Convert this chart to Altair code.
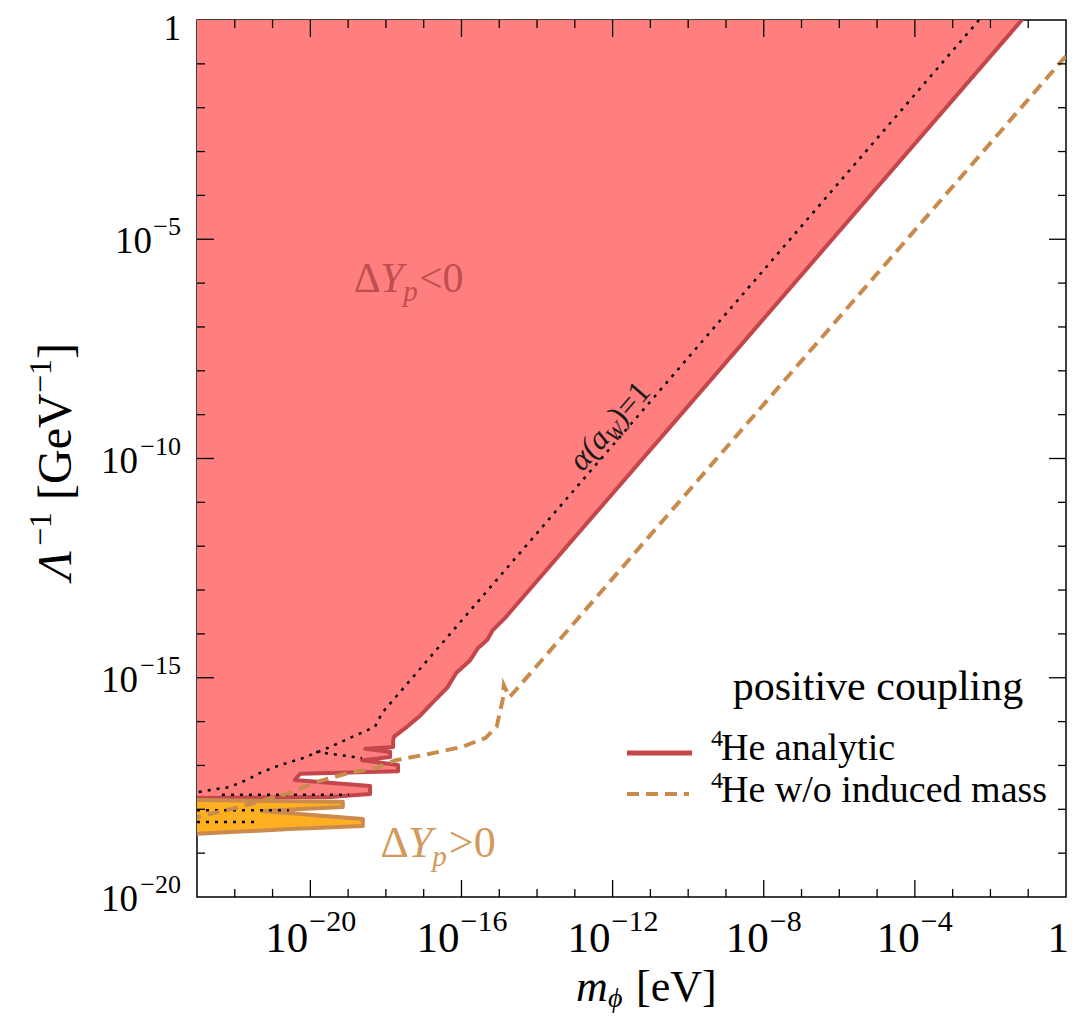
import altair as alt
import pandas as pd

W, H = 869, 877
FONT = "Liberation Serif"

xs = alt.Scale(type="log", domain=[1e-23, 1.0], nice=False)
ys = alt.Scale(type="log", domain=[1e-20, 1.0], nice=False)

# ---------------- data (log10 values) ----------------
# red (Delta Y_p < 0) region boundary, top -> bottom (log10 m_phi, log10 Lambda^-1)
red_lx = [-1.17, -14.85, -15.17, -15.32, -15.56, -15.77, -16.14, -16.38, -16.78, -17.10,
          -17.49, -17.79, -17.81, -17.81, -18.55, -17.89, -17.89, -18.63, -17.68, -17.68,
          -20.27, -20.41, -18.42, -18.42, -19.48, -23.0]
red_ly = [0.0, -13.64, -13.91, -14.14, -14.32, -14.60, -14.89, -15.23, -15.58, -15.87,
          -16.15, -16.35, -16.44, -16.58, -16.62, -16.69, -16.81, -16.88, -16.99, -17.13,
          -17.19, -17.33, -17.47, -17.65, -17.72, -17.74]

# orange (Delta Y_p > 0) region boundary, top -> bottom
org_lx = [-23.0, -21.60, -19.14, -19.14, -21.28, -18.61, -18.61, -20.54, -23.0]
org_ly = [-17.77, -17.79, -17.83, -17.95, -18.04, -18.22, -18.38, -18.45, -18.56]

# "4He w/o induced mass" dashed curve
dash_lx = [0.0, -14.56, -14.73, -14.88, -14.91, -15.07, -15.36, -16.0,
           -16.87, -17.74, -18.27, -18.98, -19.85, -20.57, -21.89, -23.0]
dash_ly = [-0.82, -15.28, -15.44, -15.17, -15.51, -16.12, -16.37, -16.58,
           -16.74, -16.88, -17.06, -17.17, -17.38, -17.63, -17.95, -18.18]

# alpha(a_W)=1 dotted curve (main) and small extra dotted pieces
dot_lx = [-2.30, -18.10, -18.29, -18.95, -19.48, -20.19, -20.80, -21.33, -21.68, -22.13, -23.0]
dot_ly = [0.0, -15.80, -16.12, -16.37, -16.58, -16.83, -16.99, -17.17, -17.33, -17.49, -17.61]
dot_extra = [
    ([-23.0, -20.57], [-18.02, -18.02]),
    ([-23.0, -21.44], [-18.29, -18.29]),
    ([-22.34, -18.98], [-17.67, -17.67]),
    ([-19.85, -18.64], [-16.69, -16.83]),
]

# tan contour of the orange fingers
tan_lx = [-23.0, -19.14, -19.14, -21.28, -18.61, -18.61, -20.54, -23.0]
tan_ly = [-17.79, -17.83, -17.95, -18.04, -18.22, -18.38, -18.45, -18.56]

# ticks / labels
x_major = [-20, -16, -12, -8, -4]
x_minor = [k for k in range(-22, 0) if k not in x_major]
y_major = [-5, -10, -15]
y_minor = [k for k in range(-19, 0) if k not in y_major]
x_lab2 = [-20, -16, -12]
x_lab1 = [-8, -4]
y_lab2 = [-10, -15, -20]
y_lab1 = [-5]

RED_FILL = "#FF7F7F"
RED_LINE = "#C4464B"
ORG_FILL = "#FFB020"
TAN = "#CC8B4E"
DASH = "#C98B4D"


def xy(lx, ly, seg=0):
    return pd.DataFrame({"x": [10 ** v for v in lx], "y": [10 ** v for v in ly],
                         "x0": 1e-23, "i": list(range(len(lx))), "seg": seg})


X = lambda: alt.X("x:Q", scale=xs, axis=None)
Y = lambda: alt.Y("y:Q", scale=ys, axis=None)

layers = []

# filled regions (horizontal areas: x from left edge to boundary at each y)
layers.append(alt.Chart(xy(red_lx, red_ly)).mark_area(orient="horizontal", color=RED_FILL, opacity=1, clip=True)
              .encode(y=Y(), x=X(), x2=alt.X2("x0:Q")))
layers.append(alt.Chart(xy(org_lx, org_ly)).mark_area(orient="horizontal", color=ORG_FILL, opacity=1, clip=True)
              .encode(y=Y(), x=X(), x2=alt.X2("x0:Q")))

# contours
layers.append(alt.Chart(xy(red_lx, red_ly)).mark_line(color=RED_LINE, strokeWidth=4, clip=True,
                                                      strokeJoin="round", strokeCap="round")
              .encode(x=X(), y=Y(), order="i:Q"))
layers.append(alt.Chart(xy(tan_lx, tan_ly)).mark_line(color=TAN, strokeWidth=4, clip=True,
                                                      strokeJoin="round", strokeCap="round")
              .encode(x=X(), y=Y(), order="i:Q"))

# dotted alpha(a_W)=1
dots = pd.concat([xy(dot_lx, dot_ly, 0)] + [xy(a, b, k + 1) for k, (a, b) in enumerate(dot_extra)])
layers.append(alt.Chart(dots).mark_line(color="black", strokeWidth=2.5, strokeDash=[3, 6], clip=True)
              .encode(x=X(), y=Y(), order="i:Q", detail="seg:N"))

# dashed curve
layers.append(alt.Chart(xy(dash_lx, dash_ly)).mark_line(color=DASH, strokeWidth=4, strokeDash=[12, 7], clip=True)
              .encode(x=X(), y=Y(), order="i:Q"))


# frame ticks (inward, on all four sides)
def xticks(vals, ln):
    d = pd.DataFrame({"x": [10 ** v for v in vals]})
    b = alt.Chart(d).mark_rule(color="black", strokeWidth=1.3).encode(x=X(), y=alt.value(H), y2=alt.value(H - ln))
    t = alt.Chart(d).mark_rule(color="black", strokeWidth=1.3).encode(x=X(), y=alt.value(0), y2=alt.value(ln))
    return [b, t]


def yticks(vals, ln):
    d = pd.DataFrame({"y": [10 ** v for v in vals]})
    l = alt.Chart(d).mark_rule(color="black", strokeWidth=1.3).encode(y=Y(), x=alt.value(0), x2=alt.value(ln))
    r = alt.Chart(d).mark_rule(color="black", strokeWidth=1.3).encode(y=Y(), x=alt.value(W), x2=alt.value(W - ln))
    return [l, r]


layers += xticks(x_minor, 8) + xticks(x_major, 17) + yticks(y_minor, 8) + yticks(y_major, 17)

# text helpers
one = pd.DataFrame({"a": [0]})


def ptext(text, x, y, size, color="black", style="normal", align="left", angle=None, dx=0, dy=0):
    kw = dict(text=text, fontSize=size, color=color, font=FONT, align=align,
              baseline="alphabetic", fontStyle=style, dx=dx, dy=dy)
    if angle is not None:
        kw["angle"] = angle
    return alt.Chart(one).mark_text(**kw).encode(x=alt.value(x), y=alt.value(y))


def dtext(text, lx, ly, size, color="black", style="normal", align="left", angle=None, dx=0, dy=0):
    kw = dict(text=text, fontSize=size, color=color, font=FONT, align=align,
              baseline="alphabetic", fontStyle=style, dx=dx, dy=dy)
    if angle is not None:
        kw["angle"] = angle
    return alt.Chart(xy([lx], [ly])).mark_text(**kw).encode(x=X(), y=Y())


# x tick labels
XB, XE = H + 55, H + 34


def xlab(vals, base_dx, exp_dx):
    d = pd.DataFrame({"x": [10 ** v for v in vals], "e": ["\u2212" + str(-v) for v in vals]})
    b = alt.Chart(d).mark_text(text="10", font=FONT, fontSize=43, align="right", baseline="alphabetic",
                               dx=base_dx, color="black").encode(x=X(), y=alt.value(XB))
    e = alt.Chart(d).mark_text(font=FONT, fontSize=30, align="left", baseline="alphabetic",
                               dx=exp_dx, color="black").encode(x=X(), y=alt.value(XE), text="e:N")
    return [b, e]


layers += xlab(x_lab2, -2, -1) + xlab(x_lab1, 5, 6)
layers.append(alt.Chart(pd.DataFrame({"x": [1.0]})).mark_text(text="1", font=FONT, fontSize=43, align="right",
                                                              baseline="alphabetic", dx=3, color="black")
              .encode(x=X(), y=alt.value(XB)))


# y tick labels
def ylab(vals, base_x):
    d = pd.DataFrame({"y": [10 ** v for v in vals], "e": ["\u2212" + str(-v) for v in vals]})
    b = alt.Chart(d).mark_text(text="10", font=FONT, fontSize=37, align="right", baseline="alphabetic",
                               dy=14, color="black").encode(y=Y(), x=alt.value(base_x))
    e = alt.Chart(d).mark_text(font=FONT, fontSize=26, align="right", baseline="alphabetic",
                               dy=-4, color="black").encode(y=Y(), x=alt.value(-16), text="e:N")
    return [b, e]


layers += ylab(y_lab2, -59) + ylab(y_lab1, -45)
layers.append(alt.Chart(pd.DataFrame({"y": [1.0]})).mark_text(text="1", font=FONT, fontSize=35, align="right",
                                                              baseline="alphabetic", dy=20, color="black")
              .encode(y=Y(), x=alt.value(-16)))

# axis titles
layers.append(ptext("m", 379, H + 104, 44, style="italic"))
layers.append(ptext("\u03d5", 411, H + 110, 28, style="italic"))
layers.append(ptext("[eV]", 439, H + 104, 44))

TY = (-126, 560)
layers.append(ptext("\u039b", TY[0], TY[1], 48, style="italic", angle=270, dx=0))
layers.append(ptext("\u22121", TY[0], TY[1], 32, angle=270, dx=34, dy=-20))
layers.append(ptext("[GeV", TY[0], TY[1], 48, angle=270, dx=80))
layers.append(ptext("\u22121", TY[0], TY[1], 32, angle=270, dx=187, dy=-20))
layers.append(ptext("]", TY[0], TY[1], 48, angle=270, dx=221))


# in-plot annotations
def dyp(lx, ly, sign, color, s=42):
    k = s / 40
    return [dtext("\u0394", lx, ly, s, color),
            dtext("Y", lx, ly, s, color, style="italic", dx=25 * k),
            dtext("p", lx, ly, 29, color, style="italic", dx=47 * k, dy=9),
            dtext(sign + "0", lx, ly, s, color, dx=62 * k)]


layers += dyp(-18.85, -6.21, "<", "#BF4E4E")
layers += dyp(-18.14, -19.08, ">", "#D39A5B", 44)

AL = (-12.80, -10.32)
layers.append(dtext("\u03b1(a", AL[0], AL[1], 32, "#1a1a1a", style="italic", angle=311))
layers.append(dtext("W", AL[0], AL[1], 22, "#1a1a1a", style="italic", angle=311, dx=43, dy=6))
layers.append(dtext(")=1", AL[0], AL[1], 32, "#1a1a1a", angle=311, dx=61))

# legend
layers.append(ptext("positive coupling", 681, 680, 42, align="center"))
layers.append(alt.Chart(one).mark_rule(color=RED_LINE, strokeWidth=5)
              .encode(x=alt.value(430), x2=alt.value(495), y=alt.value(733)))
layers.append(alt.Chart(one).mark_rule(color=DASH, strokeWidth=4, strokeDash=[12, 7])
              .encode(x=alt.value(430), x2=alt.value(492), y=alt.value(774)))
layers.append(ptext("4", 514, 726, 24))
layers.append(ptext("He analytic", 524, 740, 38))
layers.append(ptext("4", 514, 768, 24))
layers.append(ptext("He w/o induced mass", 524, 782, 38))

chart = alt.layer(*layers).properties(
    width=W, height=H, background="white",
    padding={"left": 189, "top": 12, "right": 2, "bottom": 116},
    autosize=alt.AutoSizeParams(type="none"),
).configure_view(stroke="black", strokeWidth=1.5)

chart.save("out.html", embed_options={"renderer": "svg", "actions": False})
